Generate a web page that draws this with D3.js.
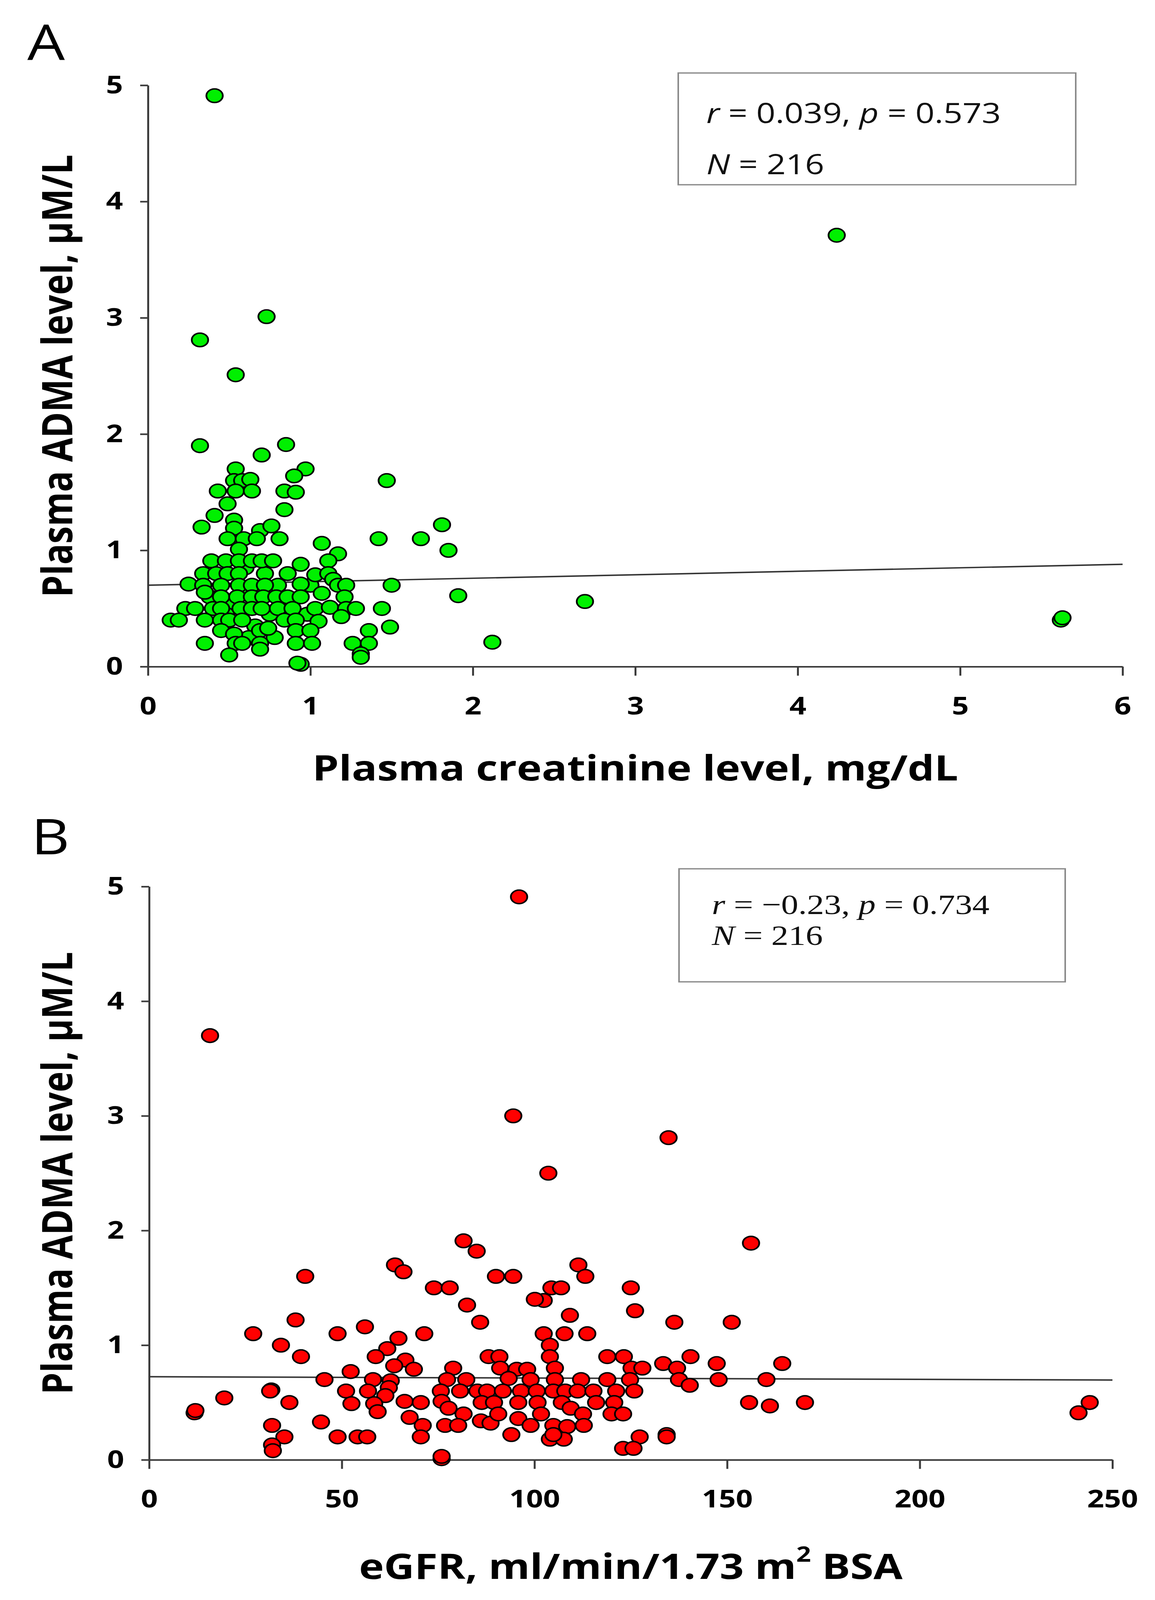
<!DOCTYPE html>
<html>
<head>
<meta charset="utf-8">
<script src="https://cdn.jsdelivr.net/npm/d3@7"></script>
<style>
  html, body { margin: 0; padding: 0; background: #fff; overflow: hidden; }
  svg { display: block; }
  .tick text { font-family: "Open Sans", sans-serif; font-weight: 700; font-size: 76px; fill: #000; }
  .axis path, .axis line { stroke: #3c3c3c; stroke-width: 5; }
</style>
</head>
<body>
<svg id="chart" viewBox="0 0 2958 4954" preserveAspectRatio="none"></svg>
<script>
// Panel A: plasma creatinine (mg/dL) vs plasma ADMA (µM/L)
const creatinineAdma = [
  [0.41, 4.91], [4.24, 3.71], [0.32, 2.81], [0.73, 3.01], [0.54, 2.51],
  [0.32, 1.90], [0.85, 1.91], [0.70, 1.82], [0.97, 1.70], [1.47, 1.60],
  [1.81, 1.22], [1.68, 1.10], [1.42, 1.10], [1.85, 1.00], [1.50, 0.70],
  [1.91, 0.61], [1.44, 0.50], [1.49, 0.34], [2.69, 0.56], [2.12, 0.21],
  [5.62, 0.40], [5.63, 0.42],
  [0.60, 0.65], [0.52, 0.55], [0.75, 0.45], [0.66, 0.35], [0.48, 0.45],
  [0.62, 0.25], [0.80, 0.70], [0.72, 0.80], [0.60, 0.85], [0.38, 0.60],
  [1.00, 0.70], [0.98, 0.45], [0.78, 0.25], [0.94, 0.02],
  [0.54, 1.70], [0.53, 1.60], [0.58, 1.60], [0.63, 1.61], [0.90, 1.64],
  [0.43, 1.51], [0.54, 1.51], [0.64, 1.51], [0.84, 1.51], [0.91, 1.50],
  [0.49, 1.40], [0.84, 1.35], [0.41, 1.30], [0.53, 1.26], [0.33, 1.20],
  [0.53, 1.19], [0.69, 1.17], [0.76, 1.21],
  [0.49, 1.10], [0.59, 1.10], [0.67, 1.10], [0.81, 1.10],
  [0.56, 1.01], [1.07, 1.06], [1.17, 0.97],
  [0.39, 0.91], [0.48, 0.91], [0.56, 0.91], [0.64, 0.91], [0.70, 0.91],
  [0.77, 0.91], [0.94, 0.88], [1.11, 0.91],
  [0.34, 0.80], [0.42, 0.80], [0.49, 0.80], [0.56, 0.80], [0.86, 0.80],
  [1.03, 0.79], [1.11, 0.80], [1.14, 0.75],
  [0.25, 0.71], [0.34, 0.70], [0.45, 0.70], [0.56, 0.70], [0.64, 0.70],
  [0.72, 0.70], [0.94, 0.71], [1.17, 0.70], [1.22, 0.70],
  [0.35, 0.64], [1.07, 0.63],
  [0.45, 0.60], [0.55, 0.60], [0.64, 0.60], [0.71, 0.60], [0.79, 0.60],
  [0.86, 0.60], [0.94, 0.60], [1.21, 0.60],
  [0.23, 0.50], [0.29, 0.50], [0.40, 0.50], [0.45, 0.50], [0.57, 0.50],
  [0.64, 0.50], [0.70, 0.50], [0.80, 0.50], [0.89, 0.50], [1.03, 0.50],
  [1.12, 0.51], [1.22, 0.50], [1.28, 0.50],
  [0.14, 0.40], [0.19, 0.40], [0.35, 0.40], [0.45, 0.40], [0.50, 0.40],
  [0.58, 0.40], [0.84, 0.40], [0.91, 0.40], [1.05, 0.39], [1.19, 0.43],
  [0.45, 0.31], [0.53, 0.28], [0.69, 0.31], [0.74, 0.33], [0.91, 0.31],
  [1.00, 0.31], [1.36, 0.31],
  [0.35, 0.20], [0.54, 0.20], [0.58, 0.20], [0.69, 0.20], [0.69, 0.15],
  [0.91, 0.20], [1.01, 0.20], [1.26, 0.20], [1.36, 0.20], [1.31, 0.11],
  [1.31, 0.08], [0.50, 0.10], [0.92, 0.03]
];
const creatinineTrend = [[0, 0.70], [6, 0.88]];
const creatinineTicks = [0, 1, 2, 3, 4, 5, 6];

// Panel B: eGFR (ml/min/1.73 m2 BSA) vs plasma ADMA (µM/L)
const egfrAdma = [
  [96, 4.91], [15.8, 3.70], [94.5, 3.00], [134.8, 2.81], [103.6, 2.50],
  [156.2, 1.89], [241.2, 0.41], [244.1, 0.50],
  [63.8, 1.70], [66, 1.64], [40.5, 1.60], [38, 1.22], [56, 1.16],
  [27, 1.10], [48.9, 1.10], [64.7, 1.06], [34.2, 1.00], [61.8, 0.97],
  [39.4, 0.90], [58.8, 0.90], [66.5, 0.87], [63.6, 0.82], [52.3, 0.77],
  [45.5, 0.70], [58.1, 0.70], [62.7, 0.69], [31.7, 0.61], [31.4, 0.60],
  [51.1, 0.60], [56.8, 0.60], [62.2, 0.63], [19.5, 0.54], [61.3, 0.56],
  [36.4, 0.50], [52.5, 0.49], [58.4, 0.49], [66.3, 0.51], [11.8, 0.41],
  [12, 0.43], [59.3, 0.42], [67.6, 0.37], [44.6, 0.33], [31.9, 0.30],
  [35.1, 0.20], [48.9, 0.20], [54.1, 0.20], [56.6, 0.20], [31.9, 0.13],
  [32.1, 0.08],
  [81.6, 1.91], [85, 1.82], [90, 1.60], [94.5, 1.60], [111.4, 1.70],
  [113.2, 1.60], [73.9, 1.50], [78, 1.50], [125, 1.50], [104.4, 1.50],
  [106.9, 1.50], [102.4, 1.39], [100.1, 1.40], [82.5, 1.35], [85.9, 1.20],
  [109.2, 1.26], [126.1, 1.30], [136.3, 1.20], [71.4, 1.10], [102.4, 1.10],
  [107.8, 1.10], [113.7, 1.10], [104, 1.00], [104, 0.90], [88.1, 0.90],
  [90.9, 0.90], [118.9, 0.90], [123.2, 0.90], [133.4, 0.84], [140.5, 0.90],
  [78.9, 0.80], [91.1, 0.80], [95.4, 0.79], [98.1, 0.79], [105.3, 0.80],
  [125.2, 0.80], [128, 0.80], [137, 0.80], [68.7, 0.79],
  [77.3, 0.70], [82.3, 0.70], [99, 0.70], [105.3, 0.70], [112.1, 0.70],
  [118.9, 0.70], [124.8, 0.70], [137.5, 0.70], [93.3, 0.71],
  [75.7, 0.60], [80.7, 0.60], [85.2, 0.60], [87.7, 0.60], [91.8, 0.60],
  [96.5, 0.60], [100.6, 0.60], [104.9, 0.60], [108, 0.60], [111.2, 0.60],
  [115.3, 0.60], [121.2, 0.60], [125.9, 0.60],
  [70.5, 0.50], [75.9, 0.51], [86.3, 0.50], [89.5, 0.50], [95.8, 0.50],
  [100.8, 0.50], [107.1, 0.50], [116, 0.50], [120.7, 0.50],
  [77.7, 0.45], [81.6, 0.40], [86.1, 0.34], [88.6, 0.32], [90.6, 0.40],
  [95.8, 0.36], [101.7, 0.40], [109.4, 0.45], [112.6, 0.40], [120, 0.40],
  [123, 0.40],
  [71, 0.30], [76.8, 0.30], [80.2, 0.30], [99, 0.30], [104.9, 0.30],
  [108.5, 0.29], [112.8, 0.30],
  [70.5, 0.20], [94, 0.22], [104, 0.18], [107.6, 0.18], [104.9, 0.22],
  [127.3, 0.20], [134.3, 0.22], [134.3, 0.20], [123, 0.10], [125.7, 0.10],
  [75.9, 0.01], [75.9, 0.03],
  [140.3, 0.65], [147.3, 0.84], [147.8, 0.70], [151.2, 1.20], [164.3, 0.84],
  [160.2, 0.70], [155.7, 0.50], [161.1, 0.47], [170.2, 0.50]
];
const egfrTrend = [[0, 0.725], [250, 0.696]];
const egfrTicks = [0, 50, 100, 150, 200, 250];

const admaTicks = [0, 1, 2, 3, 4, 5];

const W = 2958, H = 4954;

// the window may be shorter than the figure, so stretch the drawing to fill it
const svg = d3.select("#chart")
    .attr("width", window.innerWidth || W)
    .attr("height", window.innerHeight || H);
svg.append("rect").attr("width", W).attr("height", H).attr("fill", "#fff");

function drawPanel(cfg) {
  let g = svg.append("g");
  let x = d3.scaleLinear().domain(cfg.xDomain).range([cfg.left, cfg.right]);
  let y = d3.scaleLinear().domain([0, 5]).range([cfg.bottom, cfg.top]);

  // axes
  g.append("g")
      .attr("class", "axis")
      .attr("transform", `translate(0,${cfg.bottom})`)
      .call(d3.axisBottom(x).tickValues(cfg.xTicks).tickFormat(d3.format("d"))
        .tickSize(28).tickSizeOuter(0).tickPadding(66));

  g.append("g")
      .attr("class", "axis")
      .attr("transform", `translate(${cfg.left},0)`)
      .call(d3.axisLeft(y).tickValues(admaTicks).tickFormat(d3.format("d"))
        .tickSize(20).tickSizeOuter(0).tickPadding(44));

  // regression line
  g.append("path")
      .datum(cfg.trend)
      .attr("fill", "none")
      .attr("stroke", "#333")
      .attr("stroke-width", 4.5)
      .attr("d", d3.line().x(d => x(d[0])).y(d => y(d[1])));

  // points
  g.append("g").selectAll("circle")
      .data(cfg.points)
      .join("circle")
      .attr("cx", d => x(d[0]))
      .attr("cy", d => y(d[1]))
      .attr("r", 21)
      .attr("fill", cfg.color)
      .attr("stroke", "#000")
      .attr("stroke-width", 4.5);

  // stats box
  g.append("rect")
      .attr("x", cfg.box[0]).attr("y", cfg.box[1])
      .attr("width", cfg.box[2]).attr("height", cfg.box[3])
      .attr("fill", "#fff")
      .attr("stroke", "#8a8a8a")
      .attr("stroke-width", 4);

  cfg.statLines.forEach((line, i) => {
    let t = g.append("text")
        .attr("x", cfg.statX)
        .attr("y", cfg.statY[i])
        .attr("font-family", cfg.statFont)
        .attr("font-size", cfg.statSize)
        .attr("fill", "#111");
    line.forEach(part => {
      t.append("tspan")
          .attr("font-style", part.italic ? "italic" : "normal")
          .text(part.t);
    });
  });

  // panel letter
  g.append("text")
      .attr("x", cfg.letterPos[0])
      .attr("y", cfg.letterPos[1])
      .attr("font-family", "'Open Sans', sans-serif")
      .attr("font-size", 152)
      .attr("fill", "#000")
      .text(cfg.letter);

  // y title
  g.append("text")
      .attr("transform", `translate(185,${(cfg.top + cfg.bottom) / 2}) rotate(-90)`)
      .attr("text-anchor", "middle")
      .attr("font-family", "'Open Sans', sans-serif")
      .attr("font-weight", 700)
      .attr("font-size", 108)
      .attr("fill", "#000")
      .text("Plasma ADMA level, \u03BCM/L");

  // x title
  let xt = g.append("text")
      .attr("x", (cfg.left + cfg.right) / 2)
      .attr("y", cfg.xTitleY)
      .attr("text-anchor", "middle")
      .attr("font-family", "'Open Sans', sans-serif")
      .attr("font-weight", 700)
      .attr("font-size", 108)
      .attr("fill", "#000");
  cfg.xTitle(xt);
}

drawPanel({
  xDomain: [0, 6], xTicks: creatinineTicks,
  left: 379, right: 2875, top: 264, bottom: 2064,
  points: creatinineAdma, trend: creatinineTrend, color: "#00f000",
  box: [1737, 226, 1018, 346],
  statX: 1809, statY: [381, 540], statFont: "'Open Sans', sans-serif", statSize: 86,
  statLines: [
    [{t: "r", italic: true}, {t: " = 0.039, "}, {t: "p", italic: true}, {t: " = 0.573"}],
    [{t: "N", italic: true}, {t: " = 216"}]
  ],
  letter: "A", letterPos: [70, 186],
  xTitleY: 2417,
  xTitle: t => t.text("Plasma creatinine level, mg/dL")
});

drawPanel({
  xDomain: [0, 250], xTicks: egfrTicks,
  left: 382, right: 2849, top: 2745, bottom: 4520,
  points: egfrAdma, trend: egfrTrend, color: "#ff0000",
  box: [1739, 2690, 989, 350],
  statX: 1823, statY: [2830, 2926], statFont: "'Liberation Serif', serif", statSize: 88,
  statLines: [
    [{t: "r", italic: true}, {t: " = \u22120.23, "}, {t: "p", italic: true}, {t: " = 0.734"}],
    [{t: "N", italic: true}, {t: " = 216"}]
  ],
  letter: "B", letterPos: [80, 2645],
  xTitleY: 4889,
  xTitle: t => {
    t.append("tspan").text("eGFR, ml/min/1.73 m");
    t.append("tspan").attr("font-size", 66).attr("dy", -54).text("2");
    t.append("tspan").attr("dy", 54).text(" BSA");
  }
});
</script>
</body>
</html>
